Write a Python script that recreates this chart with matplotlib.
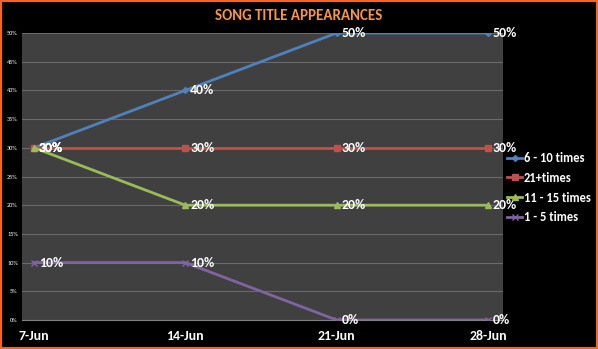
import matplotlib
matplotlib.use("Agg")
import matplotlib.pyplot as plt
from matplotlib.patches import Rectangle

categories = ["7-Jun", "14-Jun", "21-Jun", "28-Jun"]
series_names = ["6 - 10 times", "21+times", "11 - 15 times", "1 - 5 times"]
s_6_10 = [30, 40, 50, 50]
s_21p = [30, 30, 30, 30]
s_11_15 = [30, 20, 20, 20]
s_1_5 = [10, 10, 0, 0]
yticks = [0, 5, 10, 15, 20, 25, 30, 35, 40, 45, 50]

colors = ["#4F81BD", "#C0504D", "#9BBB59", "#8064A2"]
markers = ["D", "s", "^", "x"]
msizes = [3, 4, 4, 4]
FAM = ["Carlito", "DejaVu Sans"]

fig = plt.figure(figsize=(5.98, 3.49), dpi=100, facecolor="black")
W, H = 598, 349
ax = fig.add_axes([22 / W, 1 - 320 / H, (503 - 22) / W, (320 - 33) / H])
ax.set_facecolor("#404040")

x = list(range(len(categories)))
for vals, name, c, m, ms in zip([s_6_10, s_21p, s_11_15, s_1_5], series_names, colors, markers, msizes):
    ax.plot(x, vals, color=c, lw=2, marker=m, ms=ms, label=name, zorder=3)
    for xi, v in zip(x, vals):
        ax.annotate(f"{v}%", (xi, v), xytext=(3.5, 0), textcoords="offset points",
                    ha="left", va="center", color="white", fontsize=10,
                    fontweight="bold", family=FAM, zorder=5)

ax.set_xlim(-0.08, 3.1)
ax.set_ylim(0, 50)
ax.set_yticks(yticks)
ax.set_yticklabels([f"{t}%" for t in yticks], color="white", fontsize=4.5, family=FAM)
ax.set_xticks(x)
ax.set_xticklabels(categories, color="white", fontsize=10, fontweight="bold", family=FAM)
ax.tick_params(axis="both", length=0)
ax.tick_params(axis="x", pad=7)
ax.tick_params(axis="y", pad=3)
ax.grid(axis="y", color="#6a6a6a", lw=0.8)
ax.set_axisbelow(True)
for sp in ["top", "right", "left"]:
    ax.spines[sp].set_visible(False)
ax.spines["bottom"].set_color("#7f7f7f")

fig.text(299 / W, 1 - 16.5 / H, "SONG TITLE APPEARANCES", color="#F79646",
         fontsize=10.8, fontweight="bold", family=FAM, ha="center", va="center")

leg = fig.legend(loc="upper left", bbox_to_anchor=(507 / W, 1 - 152 / H),
                 frameon=False, labelcolor="white",
                 handlelength=1.2, handletextpad=0.15, labelspacing=0.62,
                 borderaxespad=0, borderpad=0,
                 prop={"weight": "bold", "size": 9, "family": FAM})

fig.patches.append(Rectangle((0, 0), 1, 1, transform=fig.transFigure, fill=False,
                             edgecolor="#F26522", lw=3, zorder=10))
fig.savefig("out.png", dpi=100, facecolor="black")
